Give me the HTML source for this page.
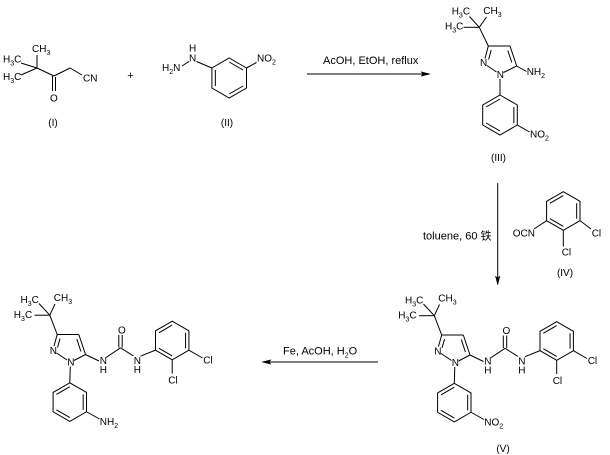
<!DOCTYPE html>
<html><head><meta charset="utf-8"><style>
html,body{margin:0;padding:0;background:#fff;}
svg{display:block;}
text{font-family:"Liberation Sans",Arial,"Noto Sans CJK SC",sans-serif;font-size:10px;fill:#000;}
.c{font-size:11px;}
.s{font-size:7px;}
line,polyline,polygon.r{stroke:#000;stroke-width:1;fill:none;}
polygon.a{fill:#000;stroke:#000;stroke-width:0.5;}
</style></head><body>
<svg width="610" height="455" viewBox="0 0 610 455" xmlns="http://www.w3.org/2000/svg">

<!-- Compound I -->
<line x1="37" y1="68" x2="37" y2="55"/>
<line x1="37" y1="68" x2="21" y2="63"/>
<line x1="37" y1="68" x2="21" y2="75"/>
<line x1="37" y1="68" x2="54" y2="76"/>
<line x1="54" y1="76" x2="70" y2="68"/>
<line x1="70" y1="68" x2="82" y2="75"/>
<line x1="52.5" y1="76" x2="52.5" y2="91"/>
<line x1="55.5" y1="77" x2="55.5" y2="91"/>
<text x="32" y="52">CH<tspan class="s" dy="3">3</tspan></text>
<text x="3" y="62.5">H<tspan class="s" dy="3">3</tspan><tspan dy="-3">C</tspan></text>
<text x="3" y="80">H<tspan class="s" dy="3">3</tspan><tspan dy="-3">C</tspan></text>
<text x="83" y="81.5">CN</text>
<text x="50" y="101.5">O</text>
<text x="53" y="126" text-anchor="middle">(I)</text>

<text class="c" x="130.5" y="79" text-anchor="middle">+</text>

<!-- Compound II -->
<text x="189" y="51.7">H</text>
<text x="189" y="61.7">N</text>
<text x="162" y="71">H<tspan class="s" dy="3">2</tspan><tspan dy="-3">N</tspan></text>
<line x1="182" y1="66" x2="189" y2="61.5"/>
<line x1="196.5" y1="61.5" x2="211.9" y2="68"/>
<polygon class="r" points="229.2,58 246.5,68 246.5,88 229.2,98 211.9,88 211.9,68"/>
<line x1="229.2" y1="62" x2="243.06" y2="70"/>
<line x1="243.06" y1="86" x2="229.2" y2="94"/>
<line x1="215.34" y1="86" x2="215.34" y2="70"/>
<line x1="246.5" y1="68" x2="256.5" y2="62.5"/>
<text x="257" y="61.7">NO<tspan class="s" dy="3">2</tspan></text>
<text x="227" y="126" text-anchor="middle">(II)</text>

<!-- Arrow 1 -->
<text class="c" x="323" y="64">AcOH, EtOH, reflux</text>
<line x1="307" y1="74" x2="425" y2="74"/>
<polygon class="a" points="430,74 421,71.8 423,74 421,76.2"/>

<!-- Compound III -->
<text x="451.7" y="14.5">H<tspan class="s" dy="3">3</tspan><tspan dy="-3">C</tspan></text>
<text x="483.3" y="14">CH<tspan class="s" dy="3">3</tspan></text>
<text x="445" y="29.7">H<tspan class="s" dy="3">3</tspan><tspan dy="-3">C</tspan></text>
<line x1="479.3" y1="27.3" x2="469.5" y2="16.5"/>
<line x1="479.3" y1="27.3" x2="486.5" y2="17"/>
<line x1="479.3" y1="27.3" x2="463.5" y2="27.3"/>
<line x1="479.3" y1="27.3" x2="488.3" y2="46"/>
<line x1="488.3" y1="46" x2="510" y2="46"/>
<line x1="510" y1="46" x2="516.7" y2="66"/>
<line x1="507.8" y1="50.5" x2="511.8" y2="62.5"/>
<line x1="516.7" y1="66" x2="503.5" y2="72.5"/>
<line x1="496.5" y1="72" x2="487" y2="65.5"/>
<line x1="488.3" y1="46" x2="485" y2="58.5"/>
<line x1="491.2" y1="50" x2="488.6" y2="59.5"/>
<text x="480" y="66">N</text>
<text x="496.7" y="78">N</text>
<line x1="516.7" y1="66" x2="526.5" y2="71.5"/>
<text x="526.7" y="75">NH<tspan class="s" dy="3">2</tspan></text>
<line x1="500" y1="79" x2="500" y2="95"/>
<polygon class="r" points="500,95 517.3,105 517.3,125 500,135 482.7,125 482.7,105"/>
<line x1="513.86" y1="107" x2="513.86" y2="123"/>
<line x1="500" y1="131" x2="486.14" y2="123"/>
<line x1="486.14" y1="107" x2="500" y2="99"/>
<line x1="517.3" y1="125" x2="529.5" y2="132"/>
<text x="530" y="137.3">NO<tspan class="s" dy="3">2</tspan></text>
<text x="498.5" y="161" text-anchor="middle">(III)</text>

<!-- Arrow 2 -->
<line x1="497.7" y1="183" x2="497.7" y2="280"/>
<polygon class="a" points="497.7,285 495.5,276 497.7,278 499.9,276"/>
<text class="c" x="423" y="239.5">toluene, 60 铁</text>

<!-- Compound IV -->
<polygon class="r" points="563.3,191.7 580.01,201.35 580.01,220.65 563.3,230.3 546.59,220.65 546.59,201.35"/>
<line x1="576.67" y1="203.28" x2="576.67" y2="218.72"/>
<line x1="563.3" y1="226.44" x2="549.93" y2="218.72"/>
<line x1="549.93" y1="203.28" x2="563.3" y2="195.56"/>
<line x1="546.59" y1="220.65" x2="534" y2="229"/>
<line x1="580.01" y1="220.65" x2="591" y2="229"/>
<line x1="563.3" y1="230.3" x2="563.3" y2="246.5"/>
<text x="512.7" y="236.7">OCN</text>
<text x="591.7" y="236.7">Cl</text>
<text x="561.7" y="255.5">Cl</text>
<text x="565" y="276" text-anchor="middle">(IV)</text>

<!-- Compound V -->
<g id="v">
<text x="405" y="303.3">H<tspan class="s" dy="3">3</tspan><tspan dy="-3">C</tspan></text>
<text x="438.3" y="301.7">CH<tspan class="s" dy="3">3</tspan></text>
<text x="398.3" y="318.3">H<tspan class="s" dy="3">3</tspan><tspan dy="-3">C</tspan></text>
<line x1="434.3" y1="315.7" x2="423.5" y2="304"/>
<line x1="434.3" y1="315.7" x2="439.5" y2="304.5"/>
<line x1="434.3" y1="315.7" x2="419" y2="315.7"/>
<line x1="434.3" y1="315.7" x2="441.7" y2="335"/>
<line x1="441.7" y1="335" x2="463.3" y2="335"/>
<line x1="463.3" y1="335" x2="470" y2="355"/>
<line x1="461.3" y1="339.5" x2="465.4" y2="352"/>
<line x1="470" y1="355" x2="458.5" y2="361"/>
<line x1="451.5" y1="360.5" x2="441" y2="353.5"/>
<line x1="441.7" y1="335" x2="438.5" y2="346.5"/>
<line x1="444.6" y1="339" x2="442" y2="348"/>
<text x="434.3" y="354.5">N</text>
<text x="451.7" y="366">N</text>
<line x1="470" y1="355" x2="483.5" y2="361.5"/>
<text x="484.3" y="364.7">N</text>
<text x="484.3" y="373.3">H</text>
<line x1="490.5" y1="358" x2="505" y2="348.3"/>
<line x1="503.3" y1="348" x2="503.3" y2="335.5"/>
<line x1="506.7" y1="348" x2="506.7" y2="335.5"/>
<text x="502.5" y="334">O</text>
<line x1="505" y1="348.3" x2="518" y2="356.5"/>
<text x="518.3" y="364.7">N</text>
<text x="518.3" y="373.3">H</text>
<line x1="525" y1="356.7" x2="539.99" y2="350.65"/>
<polygon class="r" points="556.7,321.7 573.41,331.35 573.41,350.65 556.7,360.3 539.99,350.65 539.99,331.35"/>
<line x1="570.07" y1="333.28" x2="570.07" y2="348.72"/>
<line x1="556.7" y1="356.44" x2="543.33" y2="348.72"/>
<line x1="543.33" y1="333.28" x2="556.7" y2="325.56"/>
<line x1="573.41" y1="350.65" x2="587" y2="358.5"/>
<text x="587.7" y="364">Cl</text>
<line x1="556.7" y1="360.3" x2="556.7" y2="374"/>
<text x="552.7" y="384">Cl</text>
<line x1="454.8" y1="367" x2="454.3" y2="383.3"/>
<polygon class="r" points="454.3,383.3 471.01,392.95 471.01,412.25 454.3,421.9 437.59,412.25 437.59,392.95"/>
<line x1="467.67" y1="394.88" x2="467.67" y2="410.32"/>
<line x1="454.3" y1="418.04" x2="440.93" y2="410.32"/>
<line x1="440.93" y1="394.88" x2="454.3" y2="387.16"/>
<line x1="471.01" y1="412.25" x2="484" y2="419.5"/>
</g>
<text x="484.3" y="425.5">NO<tspan class="s" dy="3">2</tspan></text>
<text x="503" y="452" text-anchor="middle">(V)</text>

<!-- Arrow 3 -->
<text class="c" x="283" y="354.5">Fe, AcOH, H<tspan class="s" dy="3">2</tspan><tspan dy="-3">O</tspan></text>
<line x1="267" y1="362" x2="378" y2="362"/>
<polygon class="a" points="262,362 271,359.8 269,362 271,364.2"/>

<!-- Final product -->
<g transform="translate(-384.5,-0.5)">
<text x="405" y="303.3">H<tspan class="s" dy="3">3</tspan><tspan dy="-3">C</tspan></text>
<text x="438.3" y="301.7">CH<tspan class="s" dy="3">3</tspan></text>
<text x="398.3" y="318.3">H<tspan class="s" dy="3">3</tspan><tspan dy="-3">C</tspan></text>
<line x1="434.3" y1="315.7" x2="423.5" y2="304"/>
<line x1="434.3" y1="315.7" x2="439.5" y2="304.5"/>
<line x1="434.3" y1="315.7" x2="419" y2="315.7"/>
<line x1="434.3" y1="315.7" x2="441.7" y2="335"/>
<line x1="441.7" y1="335" x2="463.3" y2="335"/>
<line x1="463.3" y1="335" x2="470" y2="355"/>
<line x1="461.3" y1="339.5" x2="465.4" y2="352"/>
<line x1="470" y1="355" x2="458.5" y2="361"/>
<line x1="451.5" y1="360.5" x2="441" y2="353.5"/>
<line x1="441.7" y1="335" x2="438.5" y2="346.5"/>
<line x1="444.6" y1="339" x2="442" y2="348"/>
<text x="434.3" y="354.5">N</text>
<text x="451.7" y="366">N</text>
<line x1="470" y1="355" x2="483.5" y2="361.5"/>
<text x="484.3" y="364.7">N</text>
<text x="484.3" y="373.3">H</text>
<line x1="490.5" y1="358" x2="505" y2="348.3"/>
<line x1="503.3" y1="348" x2="503.3" y2="335.5"/>
<line x1="506.7" y1="348" x2="506.7" y2="335.5"/>
<text x="502.5" y="334">O</text>
<line x1="505" y1="348.3" x2="518" y2="356.5"/>
<text x="518.3" y="364.7">N</text>
<text x="518.3" y="373.3">H</text>
<line x1="525" y1="356.7" x2="539.99" y2="350.65"/>
<polygon class="r" points="556.7,321.7 573.41,331.35 573.41,350.65 556.7,360.3 539.99,350.65 539.99,331.35"/>
<line x1="570.07" y1="333.28" x2="570.07" y2="348.72"/>
<line x1="556.7" y1="356.44" x2="543.33" y2="348.72"/>
<line x1="543.33" y1="333.28" x2="556.7" y2="325.56"/>
<line x1="573.41" y1="350.65" x2="587" y2="358.5"/>
<text x="587.7" y="364">Cl</text>
<line x1="556.7" y1="360.3" x2="556.7" y2="374"/>
<text x="552.7" y="384">Cl</text>
<line x1="454.8" y1="367" x2="454.3" y2="383.3"/>
<polygon class="r" points="454.3,383.3 471.01,392.95 471.01,412.25 454.3,421.9 437.59,412.25 437.59,392.95"/>
<line x1="467.67" y1="394.88" x2="467.67" y2="410.32"/>
<line x1="454.3" y1="418.04" x2="440.93" y2="410.32"/>
<line x1="440.93" y1="394.88" x2="454.3" y2="387.16"/>
<line x1="471.01" y1="412.25" x2="484" y2="419.5"/>
<text x="484.3" y="425.5">NH<tspan class="s" dy="3">2</tspan></text>
</g>

</svg>
</body></html>
